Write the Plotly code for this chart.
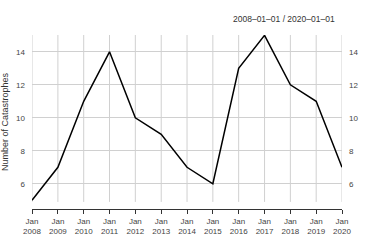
import plotly.graph_objects as go

years = ["2008-01-01", "2009-01-01", "2010-01-01", "2011-01-01", "2012-01-01", "2013-01-01",
         "2014-01-01", "2015-01-01", "2016-01-01", "2017-01-01", "2018-01-01", "2019-01-01", "2020-01-01"]
catastrophes = [5, 7, 11, 14, 10, 9, 7, 6, 13, 15, 12, 11, 7]
y_ticks = [6, 8, 10, 12, 14]

font = dict(family="Liberation Sans, Arial, sans-serif", size=8, color="#444")
yrange = [4.47, 15.02]
grid_bottom = 4.9
grid = "#d0d0d0"

fig = go.Figure()
fig.add_trace(go.Scatter(x=years, y=catastrophes, mode="lines",
                         line=dict(color="black", width=1.5), showlegend=False))
fig.add_trace(go.Scatter(x=years, y=catastrophes, mode="lines", yaxis="y2",
                         line=dict(width=0), opacity=0, showlegend=False, hoverinfo="skip"))

shapes = [dict(type="line", xref="x", yref="y", x0=yr, x1=yr, y0=grid_bottom, y1=yrange[1],
               line=dict(color=grid, width=1), layer="below") for yr in years]

fig.update_layout(
    width=374, height=242,
    margin=dict(l=32, r=32, t=35, b=33),
    paper_bgcolor="white", plot_bgcolor="white",
    font=font,
    shapes=shapes,
    annotations=[dict(text="2008–01–01 / 2020–01–01", xref="paper", yref="paper",
                      x=1, y=1, xanchor="right", yanchor="bottom", yshift=9, xshift=-5,
                      showarrow=False, font=dict(size=8.5, color="#333"))],
    xaxis=dict(type="date", range=[years[0], years[-1]], dtick="M12", tick0=years[0],
               tickformat="%b<br>%Y", showgrid=False, automargin=False,
               showline=True, linecolor="#333", linewidth=1,
               ticks="outside", ticklen=4, tickcolor="#333", zeroline=False,
               tickfont=dict(size=8, color="#444")),
    yaxis=dict(range=yrange, tickvals=y_ticks, showgrid=True,
               gridcolor=grid, gridwidth=1, zeroline=False, showline=False,
               ticks="", ticklabelstandoff=6, automargin=False,
               title=dict(text="Number of Catastrophes", font=dict(size=9, color="#333"), standoff=5),
               tickfont=dict(size=8, color="#444")),
    yaxis2=dict(range=yrange, overlaying="y", side="right", tickvals=y_ticks, showgrid=False,
                zeroline=False, showline=False, ticks="", ticklabelstandoff=6, automargin=False,
                tickfont=dict(size=8, color="#444")),
)

fig.write_html("out.html", config={"displayModeBar": False})
with open("out.html", encoding="utf-8") as f:
    html = f.read()
html = html.replace("<body>", '<body style="margin:0;padding:0;">', 1)
with open("out.html", "w", encoding="utf-8") as f:
    f.write(html)
